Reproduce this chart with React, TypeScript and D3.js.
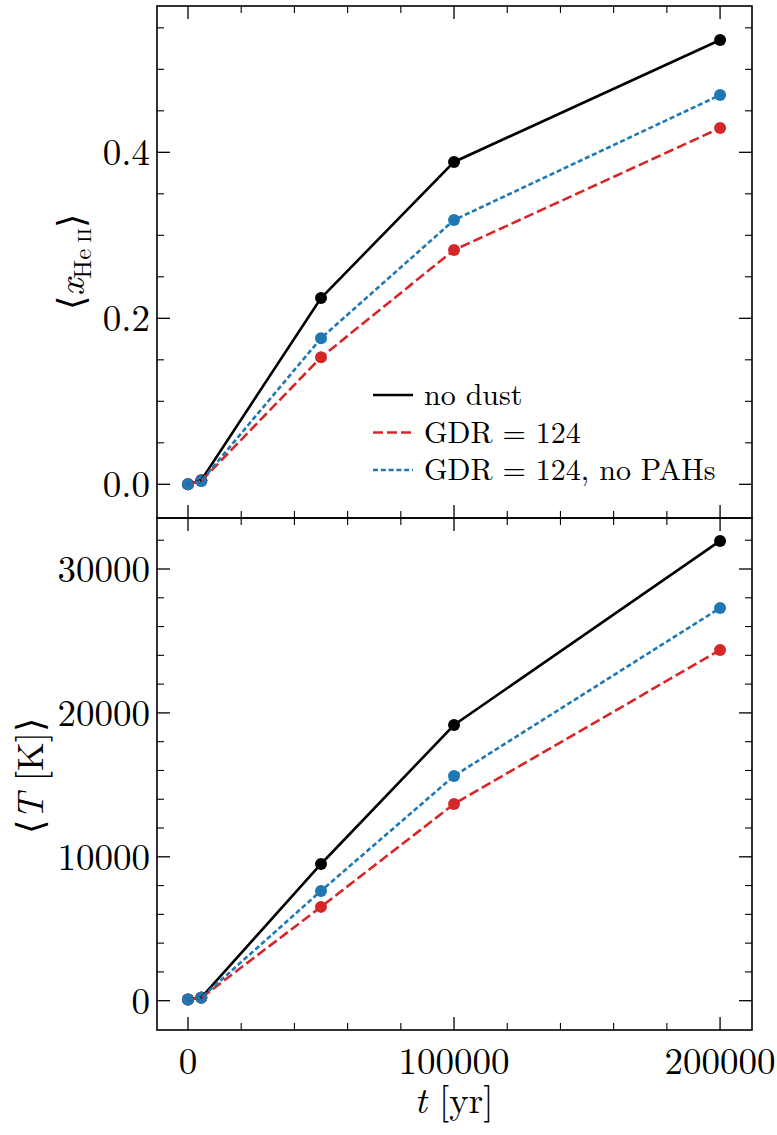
import React from "react";
import * as d3 from "d3";

const times = [0, 5000, 50000, 100000, 200000];
const xHeNoDust = [0.0, 0.005, 0.2245, 0.3884, 0.5353];
const xHeGDR = [0.0, 0.004, 0.153, 0.2823, 0.4292];
const xHeNoPAH = [0.0, 0.004, 0.176, 0.3184, 0.469];
const tNoDust = [80, 220, 9500, 19160, 31950];
const tGDR = [80, 200, 6520, 13670, 24370];
const tNoPAH = [80, 210, 7630, 15620, 27290];
const legendLabels = ["no dust", "GDR = 124", "GDR = 124, no PAHs"];
const xMajor = [0, 100000, 200000];
const yTopMajor = [0, 0.2, 0.4];
const yBotMajor = [0, 10000, 20000, 30000];

const W = 777, H = 1135;
const L = 157, R = 752, T = 6, M = 518, B = 1030;
const FONT = '"Latin Modern Roman"';
const colors = ["#000000", "#d62728", "#1f77b4"];
const dashes = [null, "10,4", "5,2.8"];

const x = d3.scaleLinear().domain([-11650, 212000]).range([L, R]);
const yTop = d3.scaleLinear().domain([-0.0406, 0.5763]).range([M, T]);
const yBot = d3.scaleLinear().domain([-2036, 33544]).range([B, M]);

const xMinor = d3.range(0, 200001, 20000).filter((v) => !xMajor.includes(v));
const fs = (size: number) => ({ fontFamily: FONT, fontSize: size });

function Panel({ y, series, yMajor, yMinorStep, y0, y1, fmt }: any) {
  const yMinor = d3.range(0, y.domain()[1], yMinorStep).filter(
    (v: number) => !yMajor.some((m: number) => Math.abs(m - v) < 1e-9)
  );
  const line = (vals: number[]) =>
    d3.line<number>().x((_, i) => x(times[i])).y((v) => y(v))(vals) as string;
  const MJ = 13, MN = 7;
  return (
    <g>
      {series.map((s: number[], si: number) =>
        s.map((v, i) => (
          <circle key={`m${si}-${i}`} cx={x(times[i])} cy={y(v)} r={6} fill={colors[si]} />
        ))
      )}
      {series.map((s: number[], si: number) => (
        <path key={`l${si}`} d={line(s)} fill="none" stroke={colors[si]} strokeWidth={2.6}
          strokeDasharray={dashes[si] || undefined} />
      ))}
      {xMajor.map((v) => (
        <g key={`xm${v}`} stroke="#000" strokeWidth={1.3}>
          <line x1={x(v)} x2={x(v)} y1={y0} y2={y0 + MJ} />
          <line x1={x(v)} x2={x(v)} y1={y1} y2={y1 - MJ} />
        </g>
      ))}
      {xMinor.map((v) => (
        <g key={`xn${v}`} stroke="#000" strokeWidth={1.1}>
          <line x1={x(v)} x2={x(v)} y1={y0} y2={y0 + MN} />
          <line x1={x(v)} x2={x(v)} y1={y1} y2={y1 - MN} />
        </g>
      ))}
      {yMajor.map((v: number) => (
        <g key={`ym${v}`}>
          <line x1={L} x2={L + MJ} y1={y(v)} y2={y(v)} stroke="#000" strokeWidth={1.3} />
          <line x1={R} x2={R - MJ} y1={y(v)} y2={y(v)} stroke="#000" strokeWidth={1.3} />
          <text x={L - 7} y={y(v)} dy="0.35em" textAnchor="end" style={fs(37)}>
            {fmt(v)}
          </text>
        </g>
      ))}
      {yMinor.map((v: number) => (
        <g key={`yn${v}`} stroke="#000" strokeWidth={1.1}>
          <line x1={L} x2={L + MN} y1={y(v)} y2={y(v)} />
          <line x1={R} x2={R - MN} y1={y(v)} y2={y(v)} />
        </g>
      ))}
    </g>
  );
}

export default function App() {
  return (
    <svg width={W} height={H} style={{ position: "absolute", left: 0, top: 0, background: "#fff" }}>
      <rect x={0} y={0} width={W} height={H} fill="#fff" />
      <Panel y={yTop} series={[xHeNoDust, xHeGDR, xHeNoPAH]} yMajor={yTopMajor} yMinorStep={0.05}
        y0={T} y1={M} fmt={(v: number) => v.toFixed(1)} />
      <Panel y={yBot} series={[tNoDust, tGDR, tNoPAH]} yMajor={yBotMajor} yMinorStep={2000}
        y0={M} y1={B} fmt={(v: number) => String(v)} />
      <rect x={L} y={T} width={R - L} height={M - T} fill="none" stroke="#000" strokeWidth={1.6} />
      <rect x={L} y={M} width={R - L} height={B - M} fill="none" stroke="#000" strokeWidth={1.6} />
      {xMajor.map((v) => (
        <text key={`xl${v}`} x={x(v)} y={1074} textAnchor="middle" style={fs(37)}>
          {v}
        </text>
      ))}
      <text x={454} y={1113} textAnchor="middle" style={fs(37)}>
        <tspan fontStyle="italic">t</tspan> [yr]
      </text>
      <text transform={`translate(84,262) rotate(-90)`} textAnchor="middle" style={fs(37)}>
        ⟨<tspan fontStyle="italic">x</tspan>
        <tspan fontSize={25} dy={7}>He</tspan><tspan fontSize={19}> II</tspan>
        <tspan dy={-7}>⟩</tspan>
      </text>
      <text transform={`translate(43,776) rotate(-90)`} textAnchor="middle" style={fs(37)}>
        ⟨<tspan fontStyle="italic">T</tspan> [K]⟩
      </text>
      {legendLabels.map((lab, i) => {
        const cy = 395 + i * 37.5;
        return (
          <g key={lab}>
            <line x1={373} x2={413} y1={cy} y2={cy} stroke={colors[i]} strokeWidth={2.6}
              strokeDasharray={dashes[i] || undefined} />
            <text x={424} y={cy + 10} style={fs(30)}>{lab}</text>
          </g>
        );
      })}
    </svg>
  );
}
